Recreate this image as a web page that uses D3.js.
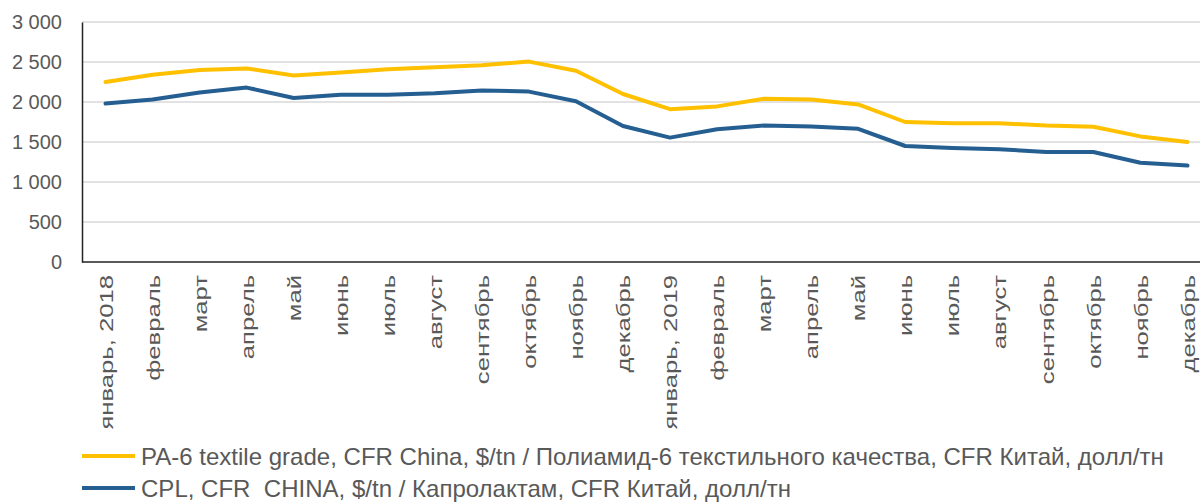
<!DOCTYPE html>
<html>
<head>
<meta charset="utf-8">
<script src="https://cdn.jsdelivr.net/npm/d3@7"></script>
<style>
  body { margin: 0; background: #fff; }
  svg { display: block; font-family: "Liberation Sans", Arial, sans-serif; }
</style>
</head>
<body>
<div id="chart"></div>
<script>
// Categories (months)
var months = ["январь, 2018", "февраль", "март", "апрель", "май", "июнь", "июль", "август",
    "сентябрь", "октябрь", "ноябрь", "декабрь", "январь, 2019", "февраль", "март", "апрель",
    "май", "июнь", "июль", "август", "сентябрь", "октябрь", "ноябрь", "декабрь"];

// PA-6 textile grade, CFR China
var pa6 = [2250, 2340, 2400, 2420, 2330, 2370, 2410, 2435, 2460, 2505, 2390, 2100,
    1910, 1945, 2040, 2030, 1970, 1750, 1735, 1735, 1705, 1690, 1570, 1500];

// CPL, CFR China
var cpl = [1980, 2030, 2120, 2180, 2050, 2090, 2090, 2110, 2145, 2130, 2010, 1700,
    1555, 1660, 1705, 1695, 1665, 1450, 1425, 1410, 1375, 1375, 1240, 1205];

var yTicks = [0, 500, 1000, 1500, 2000, 2500, 3000];

var seriesNames = [
    "PA-6 textile grade, CFR China, $/tn / Полиамид-6 текстильного качества, CFR Китай, долл/тн",
    "CPL, CFR  CHINA, $/tn / Капролактам, CFR Китай, долл/тн"
];
var seriesColors = ["#ffc000", "#255e91"];

var W = 1200, H = 502;
var margin = { top: 22, right: -11, bottom: 240, left: 82 };
var plotBottom = H - margin.bottom;

var svg = d3.select("#chart").append("svg")
    .attr("width", W)
    .attr("height", H);

// Scales
var x = d3.scalePoint()
    .domain(d3.range(months.length))
    .range([margin.left, W - margin.right])
    .padding(0.5);

var y = d3.scaleLinear()
    .domain([0, 3000])
    .range([plotBottom, margin.top]);

// Gridlines
svg.append("g")
    .selectAll("line")
    .data(yTicks.filter(function (d) { return d > 0; }))
    .enter()
    .append("line")
    .attr("x1", margin.left)
    .attr("x2", W)
    .attr("y1", function (d) { return y(d); })
    .attr("y2", function (d) { return y(d); })
    .style("stroke", "#d9d9d9")
    .style("stroke-width", 1.5);

// Y axis
var yAxis = d3.axisLeft(y)
    .tickValues(yTicks)
    .tickSize(0)
    .tickPadding(20)
    .tickFormat(function (d) { return d3.format(",")(d).replace(",", " "); });

var gy = svg.append("g")
    .attr("transform", "translate(" + margin.left + ",0)")
    .call(yAxis);
gy.select(".domain").style("stroke", "#222").style("stroke-width", 1.5);
gy.selectAll("text")
    .style("font-size", "20px")
    .style("fill", "#595959")
    .attr("font-family", null);

// X axis
var xAxis = d3.axisBottom(x)
    .tickSize(0)
    .tickFormat(function (i) { return months[i]; });

var gx = svg.append("g")
    .attr("transform", "translate(0," + plotBottom + ")")
    .call(xAxis);
gx.select(".domain")
    .attr("d", "M" + margin.left + ",0H" + W)
    .style("stroke", "#222")
    .style("stroke-width", 1.5);
// labels read bottom-to-top, slightly stretched along the text like the original
gx.selectAll("text")
    .attr("transform", "translate(0,13) rotate(-90) scale(1.35,1)")
    .attr("x", 0)
    .attr("y", 0)
    .attr("dy", "0.35em")
    .style("text-anchor", "end")
    .style("font-size", "19px")
    .style("fill", "#595959")
    .attr("font-family", null);

// Lines
var line = d3.line()
    .x(function (d, i) { return x(i); })
    .y(function (d) { return y(d); });

[pa6, cpl].forEach(function (s, k) {
    svg.append("path")
        .attr("d", line(s))
        .style("fill", "none")
        .style("stroke", seriesColors[k])
        .style("stroke-width", 4)
        .style("stroke-linejoin", "round")
        .style("stroke-linecap", "round");
});

// Legend
var legend = svg.append("g");
seriesNames.forEach(function (name, k) {
    var ly = 456 + k * 32;
    legend.append("line")
        .attr("x1", 82).attr("x2", 135)
        .attr("y1", ly).attr("y2", ly)
        .style("stroke", seriesColors[k])
        .style("stroke-width", 4);
    legend.append("text")
        .attr("transform", "translate(141," + (ly + 9) + ") scale(1.045,1)")
        .style("font-size", "23px")
        .style("fill", "#595959")
        .style("white-space", "pre")
        .text(name);
});
</script>
</body>
</html>
